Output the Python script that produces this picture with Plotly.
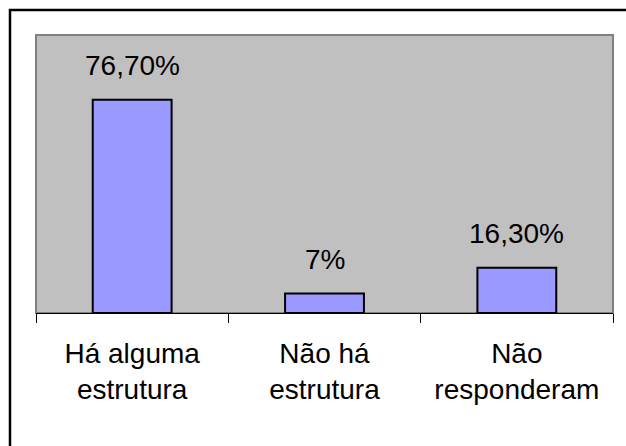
import plotly.graph_objects as go

# Survey result: existence of a support structure
categories = ["Há alguma<br>estrutura", "Não há<br>estrutura", "Não<br>responderam"]
values = [76.7, 7.0, 16.3]
value_labels = ["76,70%", "7%", "16,30%"]

W, H = 626, 446
L, R, T, B = 36, 13, 35, 133
pw, ph = W - L - R, H - T - B

font_family = "Liberation Sans, Arial, sans-serif"

fig = go.Figure()
fig.add_trace(go.Bar(
    x=categories,
    y=values,
    width=0.41,
    marker=dict(color="#9999FF", line=dict(color="black", width=2)),
    hoverinfo="skip",
))

for cat, v, lab in zip(categories, values, value_labels):
    fig.add_annotation(
        x=cat, y=v, xref="x", yref="y",
        text=lab, showarrow=False,
        yanchor="bottom", yshift=17,
        font=dict(family=font_family, size=28, color="black"),
    )

# plot-area frame (grey on left/top/right)
fig.add_shape(type="rect", xref="paper", yref="paper", x0=0, x1=1, y0=0, y1=1,
              line=dict(color="#808080", width=2), layer="below")
# outer chart frame
fig.add_shape(type="rect", xref="paper", yref="paper",
              x0=(10 - L) / pw, x1=(W + 10 - L) / pw,
              y0=-(H + 10 - T - ph) / ph, y1=(ph + T - 10) / ph,
              line=dict(color="black", width=2.5))

fig.update_layout(
    width=W, height=H,
    margin=dict(l=L, r=R, t=T, b=B),
    paper_bgcolor="white",
    plot_bgcolor="#C0C0C0",
    showlegend=False,
    bargap=0.59,
    font=dict(family=font_family, color="black"),
)
fig.update_xaxes(
    type="category",
    showline=True, linecolor="black", linewidth=1,
    ticks="outside", tickson="boundaries", ticklen=9, tickcolor="black", tickwidth=1,
    tickfont=dict(family=font_family, size=28, color="black"),
    ticklabelstandoff=15,
    showgrid=False, zeroline=False,
)
fig.update_yaxes(
    range=[0, 100], showticklabels=False, showgrid=False, zeroline=False,
    showline=False, ticks="",
)

fig.write_html("out.html")
